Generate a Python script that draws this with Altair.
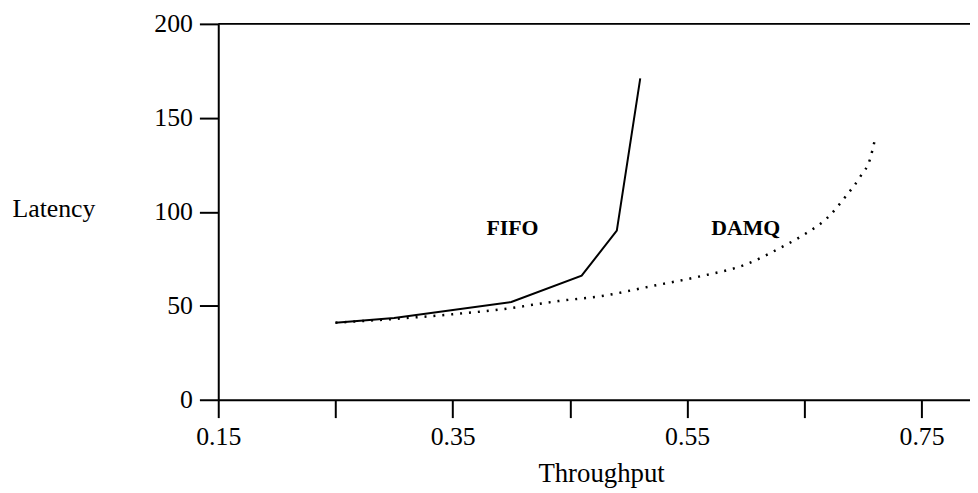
import altair as alt
import pandas as pd

fifo_x = [0.25, 0.30, 0.40, 0.46, 0.49, 0.51]
fifo_y = [41, 43.5, 52, 66, 90, 171]

damq_x = [0.25, 0.30, 0.35, 0.39, 0.44, 0.48, 0.52, 0.56, 0.60, 0.63, 0.65, 0.67, 0.685, 0.698, 0.706, 0.71]
damq_y = [41, 43, 45.5, 48, 52.5, 55.5, 60.5, 65.5, 72, 81, 88, 97, 108, 119, 128, 138]

label_text = ["FIFO", "DAMQ"]
label_x = [0.401, 0.60]
label_y = [91.5, 91.5]

x_ticks = [0.15, 0.25, 0.35, 0.45, 0.55, 0.65, 0.75]
y_ticks = [0, 50, 100, 150, 200]

FONT = "Liberation Serif"

fifo = pd.DataFrame({"x": fifo_x, "y": fifo_y})
damq = pd.DataFrame({"x": damq_x, "y": damq_y})
labels = pd.DataFrame({"t": label_text, "x": label_x, "y": label_y})

xscale = alt.Scale(domain=[0.15, 0.7913], nice=False, zero=False)
yscale = alt.Scale(domain=[0, 200], nice=False)

xaxis = alt.Axis(
    values=x_ticks,
    labelExpr="round(datum.value*100) % 20 == 15 ? format(datum.value, '.2f') : ''",
    tickSize=18, tickWidth=2, tickColor="black",
    domainColor="black", domainWidth=2,
    labelFont=FONT, labelFontSize=26, labelColor="black", labelPadding=6,
    labelFlush=False, labelOverlap=False,
    grid=False, title="Throughput", titleFont=FONT, titleFontSize=27,
    titleFontWeight="normal", titleColor="black",
    titleX=386, titleY=74, titleBaseline="middle", titleAnchor=None,
)
yaxis = alt.Axis(
    values=y_ticks,
    tickSize=19, tickWidth=2, tickColor="black",
    domainColor="black", domainWidth=2,
    labelFont=FONT, labelFontSize=26, labelColor="black", labelPadding=7,
    labelOverlap=False,
    grid=False, title="Latency", titleFont=FONT, titleFontSize=26,
    titleFontWeight="normal", titleColor="black", titleAngle=0,
    titleX=-208, titleY=186, titleAlign="left", titleBaseline="middle",
)

base_x = alt.X("x:Q", scale=xscale, axis=xaxis)
base_y = alt.Y("y:Q", scale=yscale, axis=yaxis)

l1 = alt.Chart(fifo).mark_line(color="black", strokeWidth=2).encode(x=base_x, y=base_y)
l2 = alt.Chart(damq).mark_line(color="black", strokeWidth=2.5, strokeDash=[2, 7], interpolate="monotone").encode(
    x=alt.X("x:Q", scale=xscale), y=alt.Y("y:Q", scale=yscale))
txt = alt.Chart(labels).mark_text(font=FONT, fontSize=22, color="black", fontWeight="bold").encode(
    x=alt.X("x:Q", scale=xscale), y=alt.Y("y:Q", scale=yscale), text="t:N")
top = alt.Chart(pd.DataFrame({"y": [200]})).mark_rule(color="black", strokeWidth=2).encode(
    y=alt.Y("y:Q", scale=yscale))

chart = alt.layer(top, l1, l2, txt).properties(
    width=758, height=379,
    padding={"left": 212, "top": 14, "right": 0, "bottom": 90},
    autosize=alt.AutoSizeParams(type="none"),
).configure_view(stroke=None).configure(background="white")

chart.save("out.html", embed_options={"renderer": "svg", "actions": False})
